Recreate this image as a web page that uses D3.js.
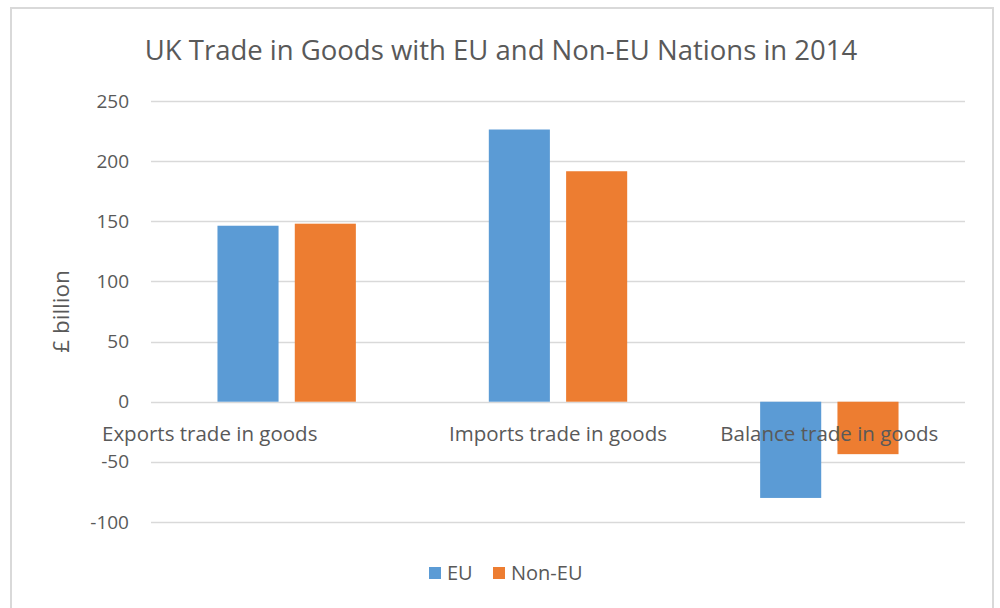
<!DOCTYPE html>
<html lang="en">
<head>
<meta charset="UTF-8">
<title>UK Trade in Goods</title>
<script src="https://cdn.jsdelivr.net/npm/d3@7/dist/d3.min.js"></script>
<style>
  body { margin: 0; background: #fff; }
  text { font-family: "Open Sans", "Noto Sans", sans-serif; fill: #595959; }
</style>
</head>
<body>
<div id="chart"></div>
<script>
// data (£ billion, 2014)
var categories = ["Exports trade in goods", "Imports trade in goods", "Balance trade in goods"];
var seriesNames = ["EU", "Non-EU"];
var euValues = [146.3, 226.3, -80.0];
var nonEuValues = [148.0, 191.6, -43.6];
var yTicks = [-100, -50, 0, 50, 100, 150, 200, 250];
var colors = ["#5b9bd5", "#ed7d31"];

var W = 1000, H = 608;
var margin = {top: 101, right: 35, bottom: 86, left: 151};

var svg = d3.select("#chart").append("svg")
    .attr("width", W)
    .attr("height", H);

// chart frame
svg.append("rect")
    .attr("x", 11).attr("y", 8)
    .attr("width", 982).attr("height", 640)
    .attr("fill", "none")
    .attr("stroke", "#d9d9d9")
    .attr("stroke-width", 2);

var x = d3.scaleBand().domain(categories).range([margin.left, W - margin.right])
    .paddingInner(0.49).paddingOuter(0.245);
var xs = d3.scaleBand().domain(seriesNames).range([0, x.bandwidth()]).paddingInner(0.21);
var y = d3.scaleLinear().domain([-100, 250]).range([H - margin.bottom, margin.top]);

// gridlines
svg.append("g").selectAll("line")
    .data(yTicks).enter()
    .append("line")
    .attr("x1", margin.left).attr("x2", W - margin.right)
    .attr("y1", function(d) { return Math.round(y(d)) + 0.5; })
    .attr("y2", function(d) { return Math.round(y(d)) + 0.5; })
    .attr("stroke", "#d9d9d9")
    .attr("stroke-width", 1.5);

// y axis labels (plain hyphen for negatives, like the original)
var yAxis = d3.axisLeft(y).tickValues(yTicks).tickSize(0).tickPadding(22)
    .tickFormat(function(d) { return String(d); });
var gy = svg.append("g").attr("transform", "translate(" + margin.left + ",0)").call(yAxis);
gy.select(".domain").remove();
gy.selectAll("text").style("font-size", "19px").attr("fill", "#595959")
    .style("font-family", "\"Open Sans\", sans-serif");

// bars
var rows = categories.map(function(c, i) { return {cat: c, vals: [euValues[i], nonEuValues[i]]}; });
var groups = svg.append("g").selectAll("g")
    .data(rows).enter()
    .append("g")
    .attr("transform", function(d) { return "translate(" + x(d.cat) + ",0)"; });

groups.selectAll("rect")
    .data(function(d) { return d.vals.map(function(v, j) { return {name: seriesNames[j], value: v}; }); })
    .enter()
    .append("rect")
    .attr("x", function(d) { return xs(d.name); })
    .attr("y", function(d) { return y(Math.max(0, d.value)); })
    .attr("width", xs.bandwidth())
    .attr("height", function(d) { return Math.abs(y(d.value) - y(0)); })
    .attr("fill", function(d, j) { return colors[j]; });

// category labels sit just under the zero line; the first one is pushed left in the original
svg.append("g").selectAll("text")
    .data(categories).enter()
    .append("text")
    .attr("x", function(d, i) { return i === 0 ? 102 : x(d) + x.bandwidth() / 2; })
    .attr("y", y(0) + 39)
    .attr("text-anchor", function(d, i) { return i === 0 ? "start" : "middle"; })
    .style("font-size", "20.5px")
    .text(function(d) { return d; });

// title
svg.append("text")
    .attr("x", 501).attr("y", 60)
    .attr("text-anchor", "middle")
    .style("font-size", "27.5px")
    .text("UK Trade in Goods with EU and Non-EU Nations in 2014");

// y axis title
svg.append("text")
    .attr("transform", "translate(69," + y(75) + ") rotate(-90)")
    .attr("text-anchor", "middle")
    .style("font-size", "22.5px")
    .text("£ billion");

// legend
var legend = svg.append("g").attr("transform", "translate(429,567)");
var legendX = [0, 64];
seriesNames.forEach(function(n, i) {
    legend.append("rect")
        .attr("x", legendX[i]).attr("y", 0)
        .attr("width", 12).attr("height", 12)
        .attr("fill", colors[i]);
    legend.append("text")
        .attr("x", legendX[i] + 18).attr("y", 13)
        .style("font-size", "20px")
        .text(n);
});
</script>
</body>
</html>
